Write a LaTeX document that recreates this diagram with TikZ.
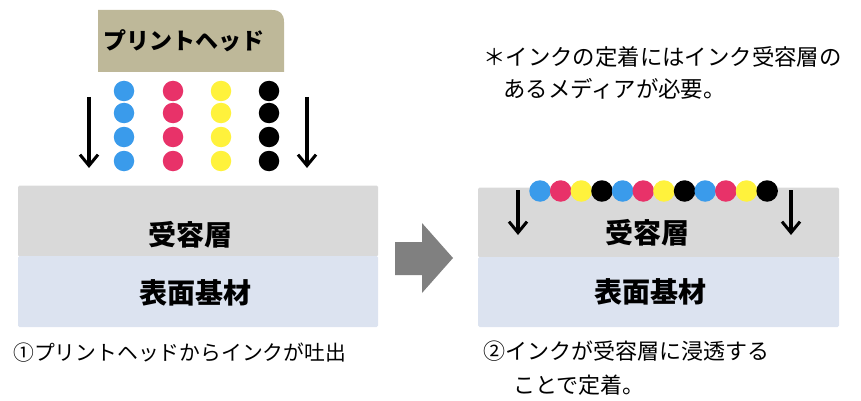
\documentclass[tikz,border=0pt]{standalone}
\usepackage{fontspec}
\newfontfamily\jp{Noto Sans CJK JP}
\usetikzlibrary{arrows.meta}
\definecolor{headfill}{RGB}{190,184,153}
\definecolor{layergray}{RGB}{217,217,217}
\definecolor{layerblue}{RGB}{220,227,240}
\definecolor{inkc}{RGB}{58,155,235}
\definecolor{inkm}{RGB}{232,50,105}
\definecolor{inky}{RGB}{255,242,60}
\definecolor{inkk}{RGB}{0,0,0}
\definecolor{arrowgray}{RGB}{128,128,128}
\tikzset{
  dropc/.style={circle,fill=inkc,inner sep=0pt,minimum size=20.5pt},
  dropm/.style={circle,fill=inkm,inner sep=0pt,minimum size=20.5pt},
  dropy/.style={circle,fill=inky,inner sep=0pt,minimum size=20.5pt},
  dropk/.style={circle,fill=inkk,inner sep=0pt,minimum size=20.5pt},
  layerbox/.style={rectangle,inner sep=0pt,rounded corners=1.5pt},
  labelbold/.style={font=\jp\bfseries\fontsize{28}{32}\selectfont,inner sep=0pt},
  captext/.style={font=\jp\fontsize{20.8}{35}\selectfont,inner sep=0pt,anchor=west,align=left},
  notetext/.style={font=\jp\fontsize{22.4}{35}\selectfont,inner sep=0pt,anchor=west,align=left},
  fallarrow/.style={-{Straight Barb[length=11pt,width=18pt,line width=3pt]},line width=3.2pt},
}
\begin{document}
\begin{tikzpicture}[x=1pt,y=-1pt]
\useasboundingbox (0,0) rectangle (861,401);
% print head
\fill[headfill] (98,72) -- (98,10) -- (272,10) .. controls (280,10) and (284,14) .. (284,22) -- (284,72) -- cycle;
\node[labelbold,font=\jp\bfseries\fontsize{23}{26}\selectfont] (headlabel) at (184,41) {プリントヘッド};
% left ink drops
\foreach \y [count=\r] in {91,113,137,161}{
  \node[dropc] (c\r) at (124,\y) {};
  \node[dropm] (m\r) at (173,\y) {};
  \node[dropy] (y\r) at (221,\y) {};
  \node[dropk] (k\r) at (269,\y) {};
}
\coordinate (la1) at (89,97);  \coordinate (lb1) at (89,168);
\coordinate (la2) at (307,97); \coordinate (lb2) at (307,168);
\draw[fallarrow] (la1) -- (lb1);
\draw[fallarrow] (la2) -- (lb2);
% left media
\node[layerbox,fill=layergray,minimum width=360pt,minimum height=71pt] (recvL) at (198,221) {};
\node[layerbox,fill=layerblue,minimum width=360pt,minimum height=71pt] (baseL) at (198,291.5) {};
\node[labelbold] (recvLtext) at (190,235) {受容層};
\node[labelbold] (baseLtext) at (195,293) {表面基材};
\node[captext] (cap1) at (13,353) {①プリントヘッドからインクが吐出};
% big arrow
\fill[arrowgray] (395,242) -- (422,242) -- (422,223) -- (453,258) -- (422,293) -- (422,275) -- (395,275) -- cycle;
% right media
\node[layerbox,fill=layergray,minimum width=361pt,minimum height=70pt] (recvR) at (658.5,222.5) {};
\node[layerbox,fill=layerblue,minimum width=361pt,minimum height=70pt] (baseR) at (658.5,292) {};
\node[labelbold] (recvRtext) at (647,233) {受容層};
\node[labelbold] (baseRtext) at (650,292) {表面基材};
\foreach \i/\s in {0/dropc,1/dropm,2/dropy,3/dropk,4/dropc,5/dropm,6/dropy,7/dropk,8/dropc,9/dropm,10/dropy,11/dropk}{
  \node[\s,minimum size=21.5pt] (r\i) at ({540+20.65*\i},191) {};
}
\coordinate (ra1) at (518,190); \coordinate (rb1) at (518,235);
\coordinate (ra2) at (791,190); \coordinate (rb2) at (791,235);
\draw[fallarrow] (ra1) -- (rb1);
\draw[fallarrow] (ra2) -- (rb2);
\node[notetext,font=\jp\fontsize{22}{35}\selectfont] (cap2) at (483,351) {②インクが受容層に浸透する};
\node[notetext,font=\jp\fontsize{22}{35}\selectfont] (cap2b) at (513,385) {ことで定着。};
% note
\node[notetext] (note1) at (483,57) {＊インクの定着にはインク受容層の};
\node[notetext] (note2) at (503,89) {あるメディアが必要。};
\end{tikzpicture}
\end{document}
